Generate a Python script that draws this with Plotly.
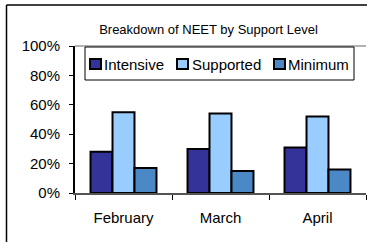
import plotly.graph_objects as go

months = ["February", "March", "April"]
series_names = ["Intensive", "Supported", "Minimum"]
intensive = [0.28, 0.30, 0.31]
supported = [0.55, 0.54, 0.52]
minimum = [0.17, 0.15, 0.16]
colors = ["#333399", "#99ccff", "#4a88c6"]
y_ticks = [0, 0.2, 0.4, 0.6, 0.8, 1.0]

W, H = 367, 242
# plot area in reference pixels: x 75..366, y 46..193
PX0, PX1, PY0, PY1 = 75, 366, 46, 193
L, T = PX0, PY0
R = W - PX1
B = H - PY1
PW, PH = PX1 - PX0, PY1 - PY0
FONT = "Arial, Liberation Sans, sans-serif"


def px(x):
    return (x - PX0) / PW


def py(y):
    return (PY1 - y) / PH


fig = go.Figure()
for name, vals, col in zip(series_names, [intensive, supported, minimum], colors):
    fig.add_trace(go.Bar(x=months, y=vals, name=name, marker_color=col,
                         marker_line_color="black", marker_line_width=2,
                         showlegend=False, hoverinfo="skip"))

shapes = []
# outer chart border (left and top visible)
shapes.append(dict(type="line", xref="paper", yref="paper",
                   x0=px(6.5), x1=px(367), y0=py(5), y1=py(5),
                   line=dict(color="black", width=1.5)))
shapes.append(dict(type="line", xref="paper", yref="paper",
                   x0=px(6.5), x1=px(6.5), y0=py(5), y1=py(242),
                   line=dict(color="black", width=1.5)))
# grey plot-area top border
shapes.append(dict(type="line", xref="paper", yref="paper",
                   x0=0, x1=1, y0=1, y1=1,
                   line=dict(color="#999999", width=1.5)))
# legend box
shapes.append(dict(type="rect", xref="paper", yref="paper",
                   x0=px(85), x1=px(354), y0=py(80), y1=py(47),
                   fillcolor="white", line=dict(color="black", width=1)))
sym_x = [90, 177, 274]
txt_x = [104, 192, 288]
annotations = []
for sx, tx, name, col in zip(sym_x, txt_x, series_names, colors):
    shapes.append(dict(type="rect", xref="paper", yref="paper",
                       x0=px(sx), x1=px(sx + 11), y0=py(69), y1=py(59),
                       fillcolor=col, line=dict(color="black", width=2)))
    annotations.append(dict(xref="paper", yref="paper", x=px(tx), y=py(64),
                            text=name, showarrow=False, xanchor="left",
                            yanchor="middle", xshift=-2,
                            font=dict(size=15, color="black", family=FONT)))

fig.update_layout(
    width=W, height=H,
    margin=dict(l=L, r=R, t=T, b=B),
    paper_bgcolor="white", plot_bgcolor="white",
    barmode="group", bargap=0.32, bargroupgap=0,
    title=dict(text="Breakdown of NEET by Support Level",
               x=208.5 / W, xanchor="center",
               y=1 - 29 / H, yanchor="middle",
               font=dict(size=13, color="black", family=FONT)),
    font=dict(family=FONT, color="black"),
    shapes=shapes, annotations=annotations,
    hovermode=False,
)
fig.update_xaxes(showline=True, linecolor="#555555", linewidth=2,
                 tickson="boundaries", ticks="outside", ticklen=5,
                 tickcolor="black", tickwidth=1,
                 tickfont=dict(size=15, family=FONT, color="black"),
                 ticklabelstandoff=10, showgrid=False)
fig.update_yaxes(range=[0, 1], tickvals=y_ticks, tickformat=".0%",
                 showline=True, linecolor="black", linewidth=2,
                 ticks="outside", ticklen=4, tickcolor="black", tickwidth=1,
                 tickfont=dict(size=15, family=FONT, color="black"),
                 ticklabelstandoff=6, showgrid=False, zeroline=False)

fig.write_html("out.html", config={"displayModeBar": False},
               post_script="document.body.style.margin='0';")
